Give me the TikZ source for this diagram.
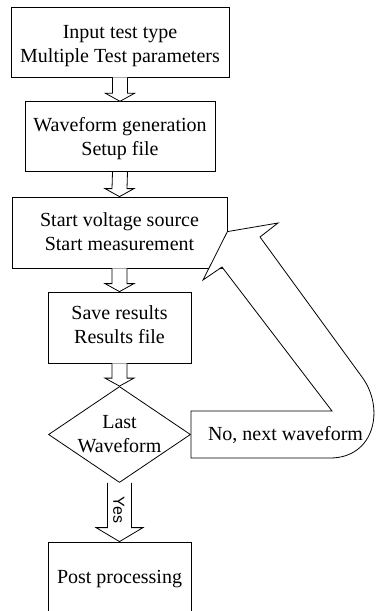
\documentclass[tikz,border=0pt]{standalone}
\usepackage{fontspec}
\setmainfont{Liberation Serif}
\newfontfamily\yessans{Liberation Sans}
\usetikzlibrary{calc,shapes.geometric}
\tikzset{
  box/.style={draw, line width=0.8pt, fill=white, inner sep=0pt, rectangle},
  dia/.style={draw, line width=0.8pt, fill=white, inner sep=0pt, diamond},
  txt/.style={inner sep=0pt, font=\fontsize{20}{24}\selectfont},
  yestxt/.style={inner sep=0pt, font=\yessans\fontsize{16}{19}\selectfont},
  blk/.style={draw, line width=0.8pt, fill=white, line join=miter},
}
\newcommand\flowarrow[2]{%
  \draw[blk] ($(#1.south)+(-7.5,0)$) -- ($(#2.north)+(-7.5,-8)$) -- ($(#2.north)+(-14.5,-8)$)
    -- (#2.north) -- ($(#2.north)+(14.5,-8)$) -- ($(#2.north)+(7.5,-8)$) -- ($(#1.south)+(7.5,0)$);}
\begin{document}
\begin{tikzpicture}[x=1pt,y=-1pt]
\useasboundingbox[fill=white] (0,0) rectangle (376,611);

% boxes
\node[box, minimum width=218pt, minimum height=70pt] (b1) at (120,42) {};
\node[box, minimum width=190pt, minimum height=70pt] (b2) at (120,136.7) {};
\node[box, minimum width=215pt, minimum height=71pt] (b3) at (119.5,232.5) {};
\node[box, minimum width=143pt, minimum height=71pt] (b4) at (119.5,327.5) {};
\node[dia, minimum width=142pt, minimum height=96pt] (d) at (119.5,434.5) {};
\node[box, minimum width=143pt, minimum height=78pt] (b5) at (119.5,581) {};

% flow arrows
\flowarrow{b1}{b2}
\flowarrow{b2}{b3}
\flowarrow{b3}{b4}
\flowarrow{b4}{d}

% Yes arrow
\draw[blk] ($(d.south)+(-12,0)$) -- ($(b5.north)+(-12,-14)$) -- ($(b5.north)+(-23.5,-14)$)
  -- (b5.north) -- ($(b5.north)+(23.5,-14)$) -- ($(b5.north)+(12,-14)$) -- ($(d.south)+(12,0)$);

% loop-back arrow
\coordinate (tip) at ($(b3.north east)+(0,35)$);
\draw[blk] ($(d.east)+(0,-23.5)$) -- (332,411) -- (222,267) -- (203,280) -- (tip)
  -- (278,223) -- (260,237) -- (362,377) .. controls (385,408) and (375,458) .. (330,458)
  -- ($(d.east)+(0,23.5)$) -- cycle;

% texts
\node[txt, anchor=base] (t1a) at (120,38) {Input test type};
\node[txt, anchor=base] (t1b) at (120,62) {Multiple Test parameters};
\node[txt, anchor=base] (t2a) at (120,131.7) {Waveform generation};
\node[txt, anchor=base] (t2b) at (120,155) {Setup file};
\node[txt, anchor=base] (t3a) at (119.5,226.7) {Start voltage source};
\node[txt, anchor=base] (t3b) at (119.5,250.5) {Start measurement};
\node[txt, anchor=base] (t4a) at (119.5,319) {Save results};
\node[txt, anchor=base] (t4b) at (119.5,343.5) {Results file};
\node[txt, anchor=base] (tda) at (119.5,428.3) {Last};
\node[txt, anchor=base] (tdb) at (119.5,452.7) {Waveform};
\node[txt, anchor=base] (tno) at (285.5,440.5) {No, next waveform};
\node[yestxt, anchor=base, rotate=-90] (ty) at (113.3,510) {Yes};
\node[txt, anchor=base] (t5) at (119.5,583.3) {Post processing};
\end{tikzpicture}
\end{document}
